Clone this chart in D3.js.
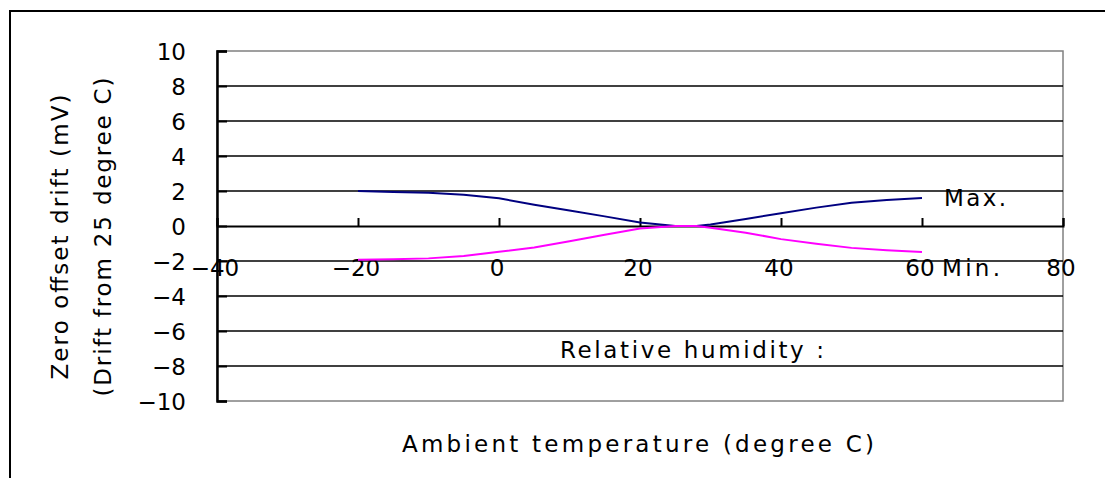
<!DOCTYPE html>
<html><head><meta charset="utf-8">
<script src="https://cdn.jsdelivr.net/npm/d3@7"></script>
<style>
body{margin:0;background:#fff}
svg{display:block}
text{font-family:"DejaVu Sans","Liberation Sans",Arial,sans-serif;fill:#000;font-size:23px}
</style>
</head><body>
<svg id="c" width="1105" height="478"></svg>
<script>
// ---- data ----
const xTicks = [-40, -20, 0, 20, 40, 60, 80];
const yTicks = [-10, -8, -6, -4, -2, 0, 2, 4, 6, 8, 10];
const temps   = [-20, -15, -10, -5, 0, 5, 10, 15, 20, 25, 28, 30, 35, 40, 45, 50, 55, 60];
const maxDrift = [2.0, 1.94, 1.9, 1.78, 1.58, 1.22, 0.89, 0.55, 0.2, 0, 0, 0.08, 0.4, 0.73, 1.05, 1.33, 1.48, 1.6];
const minDrift = [-1.93, -1.9, -1.85, -1.72, -1.47, -1.23, -0.87, -0.5, -0.14, 0, 0, -0.1, -0.38, -0.75, -1.02, -1.25, -1.38, -1.48];
const xTitle = "Ambient temperature (degree C)";
const yTitle1 = "Zero offset drift (mV)";
const yTitle2 = "(Drift from 25 degree C)";
const noteMax = "Max.";
const noteMin = "Min.";
const noteRH = "Relative humidity :";

const svg = d3.select("#c");
const L = 217, R = 1063, T = 51, B = 401;
const x = d3.scaleLinear().domain([-40, 80]).range([L, R]);
const y = d3.scaleLinear().domain([-10, 10]).range([B, T]);

// outer chart border (left/top visible)
svg.append("rect").attr("x", 10).attr("y", 11).attr("width", 3000).attr("height", 3000)
  .attr("fill", "none").attr("stroke", "#000").attr("stroke-width", 2);

// plot area border (gray)
svg.append("rect").attr("x", L).attr("y", T).attr("width", R - L).attr("height", B - T)
  .attr("fill", "none").attr("stroke", "#808080").attr("stroke-width", 1.5);

// gridlines
svg.append("g").selectAll("line").data(yTicks.filter(v => v !== -10 && v !== 10 && v !== 0))
  .join("line")
  .attr("x1", L).attr("x2", R)
  .attr("y1", d => y(d)).attr("y2", d => y(d))
  .attr("stroke", "#000").attr("stroke-width", 1.5);

// y axis
const yAxis = d3.axisLeft(y).tickValues(yTicks).tickSize(-10).tickPadding(0).tickFormat(() => "");
const gy = svg.append("g").attr("transform", `translate(${L},0)`).call(yAxis);
gy.select(".domain").attr("stroke", "#000").attr("stroke-width", 2.5);
gy.selectAll(".tick line").attr("stroke", "#000").attr("stroke-width", 2);

svg.append("g").selectAll("text").data(yTicks).join("text")
  .attr("x", 186).attr("y", d => y(d) + 8.5)
  .attr("text-anchor", "end")
  .text(d => d < 0 ? "\u2212" + Math.abs(d) : String(d));

// x axis at y = 0
const xAxis = d3.axisTop(x).tickValues(xTicks).tickSize(8).tickFormat(() => "");
const gx = svg.append("g").attr("transform", `translate(0,${y(0)})`).call(xAxis);
gx.select(".domain").attr("stroke", "#000").attr("stroke-width", 2);
gx.selectAll(".tick line").attr("stroke", "#000").attr("stroke-width", 2);

svg.append("g").selectAll("text").data(xTicks).join("text")
  .attr("x", d => x(d) - 2).attr("y", 276)
  .attr("text-anchor", "middle")
  .text(d => d < 0 ? "\u2212" + Math.abs(d) : String(d));

// series
const line = d3.line().x(d => x(d[0])).y(d => y(d[1]));
svg.append("path").datum(temps.map((t, i) => [t, maxDrift[i]]))
  .attr("d", line).attr("fill", "none").attr("stroke", "#000080").attr("stroke-width", 2);
svg.append("path").datum(temps.map((t, i) => [t, minDrift[i]]))
  .attr("d", line).attr("fill", "none").attr("stroke", "#FF00FF").attr("stroke-width", 2);

// annotations
svg.append("text").attr("x", 944).attr("y", 206).attr("textLength", 62).attr("lengthAdjust", "spacing").text(noteMax);
svg.append("text").attr("x", 942).attr("y", 276).attr("textLength", 58).attr("lengthAdjust", "spacing").text(noteMin);
svg.append("text").attr("x", 560).attr("y", 358).attr("textLength", 264).attr("lengthAdjust", "spacing").text(noteRH);

// axis titles
svg.append("text").attr("x", 402).attr("y", 452).attr("textLength", 472).attr("lengthAdjust", "spacing").text(xTitle);
svg.append("text").attr("transform", "translate(68,237) rotate(-90)").attr("text-anchor", "middle")
  .attr("textLength", 285).attr("lengthAdjust", "spacing").text(yTitle1);
svg.append("text").attr("transform", "translate(111,237) rotate(-90)").attr("text-anchor", "middle")
  .attr("textLength", 319).attr("lengthAdjust", "spacing").text(yTitle2);
</script>
</body></html>
